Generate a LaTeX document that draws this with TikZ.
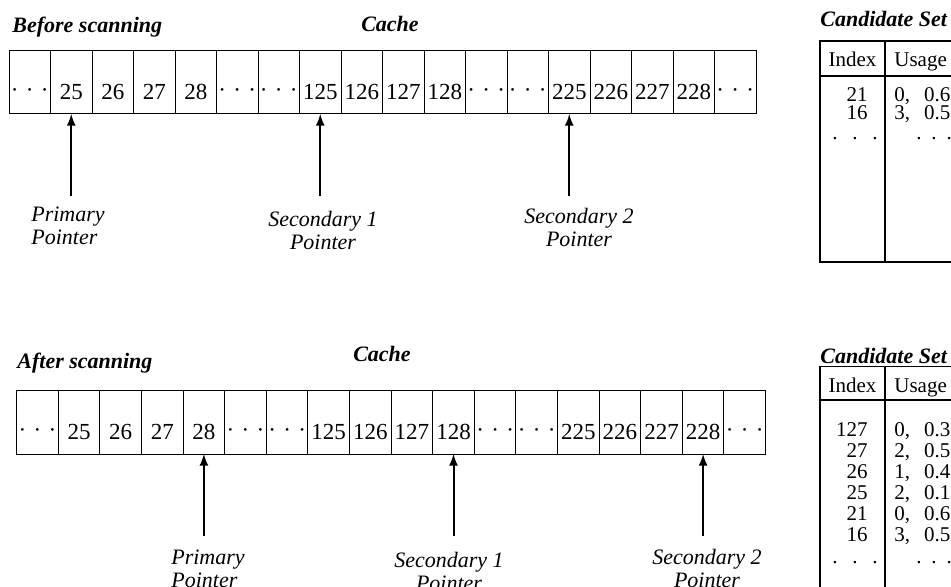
\documentclass[tikz,border=0pt]{standalone}
\usepackage{fontspec}
\setmainfont{Liberation Serif}
\usetikzlibrary{arrows}
\tikzstyle{cell}=[draw, line width=0.5pt, minimum width=20.75pt, minimum height=31.65pt, inner sep=0pt, outer sep=0pt, text height=17.5pt, text depth=0pt, font=\fontsize{11.5pt}{12pt}\selectfont]
\tikzstyle{ptr}=[draw, -latex, line width=1pt]
\tikzstyle{ptrlab}=[anchor=north, inner sep=0pt, align=center, font=\fontsize{11pt}{11.25pt}\selectfont\itshape]
\tikzstyle{title}=[inner sep=0pt, font=\fontsize{11pt}{13pt}\selectfont\bfseries\itshape]
\tikzstyle{tab}=[inner sep=0pt, font=\fontsize{10.5pt}{12pt}\selectfont]
\tikzstyle{row}=[tab, font=\fontsize{10.5pt}{11pt}\selectfont]
\newcommand{\dotgap}[1]{\makebox[0pt]{·}\hspace{#1}\makebox[0pt]{·}\hspace{#1}\makebox[0pt]{·}}
\newcommand{\celldots}{\raisebox{1pt}{\dotgap{7.5pt}}}
\newcommand{\tabdots}[1]{.\hspace{#1}.\hspace{#1}.}
\newcommand{\usg}[2]{#1,\hspace{7pt}#2}

\begin{document}
\begin{tikzpicture}[x=0.5pt, y=-0.5pt]
\useasboundingbox (0,0) rectangle (951,587);
% before scanning
\node[title, anchor=base west] (bef) at (12,33) {Before scanning};
\node[title, anchor=base] (cache1) at (390,31.7) {Cache};
\foreach \lab [count=\i] in {\celldots,25,26,27,28,\celldots,\celldots,125,126,127,128,\celldots,\celldots,225,226,227,228,\celldots} % edit here for the cells
\node[cell] (a\i) at ({9+41.5*(\i-0.5)},82.35) {\lab};
\foreach \c in {2,8,14} % edit here for the pointers
\path[ptr] ([yshift=-41pt]a\c.south) -- (a\c.south);
\node[ptrlab, align=left] (pa1) at (68,207) {Primary\\Pointer};
\node[ptrlab] (pa2) at (323,211) {Secondary 1\\Pointer};
\node[ptrlab] (pa3) at (579,208) {Secondary 2\\Pointer};
% candidate set, before
\node[title, anchor=base west] (cand1) at (820,26.7) {Candidate Set};
\draw[line width=0.6pt] (820,41) rectangle (990,262);
\draw[line width=0.9pt] (820,76) -- (990,76) (885,41) -- (885,262);
\node[tab, anchor=base] (ia) at (852.5,67) {Index};
\node[tab, anchor=base west] (ua) at (894,67) {Usage};
\foreach \n/\p/\q/\y in {21/0/0.6/102, 16/3/0.5/120}
{\node[row, anchor=base east] (ia\n) at (868,\y) {\n};
 \node[row, anchor=base west] (ua\n) at (894,\y) {\usg{\p}{\q}};}
\node[row, anchor=base] (iad) at (855,140) {\tabdots{7.4pt}};
\node[row, anchor=base west] (uad) at (916,140) {\tabdots{4.9pt}};

% after scanning
\node[title, anchor=base west] (aft) at (17,368) {After scanning};
\node[title, anchor=base] (cache2) at (382,361.7) {Cache};
\foreach \lab [count=\i] in {\celldots,25,26,27,28,\celldots,\celldots,125,126,127,128,\celldots,\celldots,225,226,227,228,\celldots}
\node[cell, minimum width=20.8pt] (b\i) at ({16.7+41.6*(\i-0.5)},422.35) {\lab};
\foreach \c in {5,11,17}
\path[ptr] ([yshift=-41pt]b\c.south) -- (b\c.south);
\node[ptrlab, align=left] (pb1) at (208,550) {Primary\\Pointer};
\node[ptrlab] (pb2) at (449,552) {Secondary 1\\Pointer};
\node[ptrlab] (pb3) at (707,549) {Secondary 2\\Pointer};
% candidate set, after
\node[title, anchor=base west] (cand2) at (820,363) {Candidate Set};
\draw[line width=0.6pt] (820,366.7) rectangle (990,640);
\draw[line width=0.9pt] (820,400) -- (990,400) (885,366.7) -- (885,640);
\node[tab, anchor=base] (ib) at (852.5,392) {Index};
\node[tab, anchor=base west] (ub) at (894,392) {Usage};
\foreach \n/\p/\q/\y in {127/0/0.3/436, 27/2/0.5/457, 26/1/0.4/478, 25/2/0.1/499, 21/0/0.6/520, 16/3/0.5/541}
{\node[row, anchor=base east] (ib\n) at (868,\y) {\n};
 \node[row, anchor=base west] (ub\n) at (894,\y) {\usg{\p}{\q}};}
\node[row, anchor=base] (ibd) at (855,563) {\tabdots{7.4pt}};
\node[row, anchor=base west] (ubd) at (916,563) {\tabdots{4.9pt}};
\end{tikzpicture}
\end{document}
